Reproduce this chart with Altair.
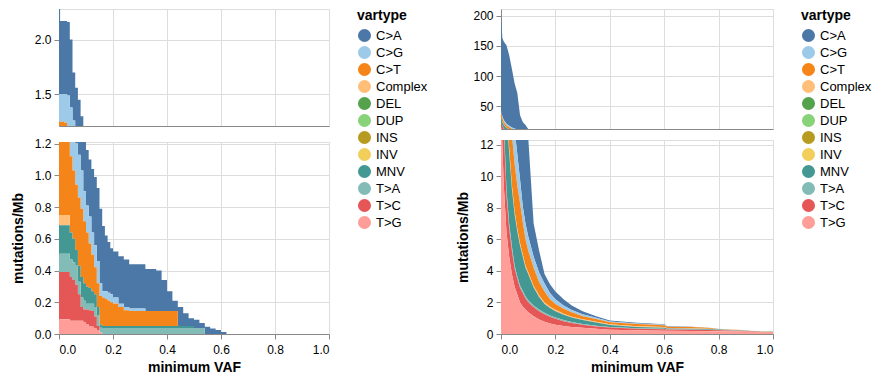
import altair as alt
import pandas as pd

VARTYPES = ["C>A", "C>G", "C>T", "Complex", "DEL", "DUP", "INS", "INV",
            "MNV", "T>A", "T>C", "T>G"]

# ---------------- left panel (step data) ----------------
LEFT_VAF = [0, 0.004, 0.01, 0.02, 0.03, 0.04, 0.05, 0.06, 0.07, 0.08, 0.09,
            0.10, 0.11, 0.12, 0.13, 0.14, 0.15, 0.16, 0.17, 0.18, 0.19, 0.20,
            0.22, 0.24, 0.26, 0.28, 0.30, 0.32, 0.34, 0.36, 0.38, 0.40, 0.42,
            0.44, 0.46, 0.48, 0.50, 0.52, 0.54, 0.56, 0.58, 0.60, 0.62]
L_CA = [0.78, 0.67, 0.67, 0.67, 0.67, 0.62, 0.44, 0.36, 0.32, 0.27, 0.31,
        0.35, 0.36, 0.40, 0.43, 0.46, 0.47, 0.41, 0.35, 0.32, 0.29, 0.29,
        0.30, 0.30, 0.28, 0.28, 0.28, 0.265, 0.265, 0.255, 0.195, 0.125, 0.065,
        0.12, 0.08, 0.05, 0.052, 0.032, 0.045, 0.035, 0.025, 0.012, 0]
L_CG = [0.25, 0.25, 0.25, 0.26, 0.28, 0.26, 0.23, 0.26, 0.27, 0.24, 0.19,
        0.17, 0.17, 0.14, 0.14, 0.14, 0.08, 0.04, 0.05, 0.05, 0.05, 0.04,
        0.02, 0.02, 0.015, 0.015, 0.015, 0, 0, 0, 0, 0, 0,
        0, 0, 0, 0, 0, 0, 0, 0, 0, 0]
L_CT = [0.50, 0.50, 0.50, 0.49, 0.46, 0.48, 0.43, 0.41, 0.43, 0.43, 0.39,
        0.34, 0.28, 0.23, 0.17, 0.15, 0.18, 0.18, 0.17, 0.16, 0.15, 0.14,
        0.12, 0.10, 0.095, 0.095, 0.095, 0.095, 0.095, 0.095, 0.095, 0.095, 0.095,
        0, 0, 0, 0, 0, 0, 0, 0, 0, 0]
L_COMPLEX = [0.065, 0.065, 0.065, 0.065, 0.065, 0, 0, 0, 0, 0, 0,
             0, 0, 0, 0, 0, 0, 0, 0, 0, 0, 0,
             0, 0, 0, 0, 0, 0, 0, 0, 0, 0, 0,
             0, 0, 0, 0, 0, 0, 0, 0, 0, 0]
L_MNV = [0.18, 0.18, 0.18, 0.18, 0.18, 0.17, 0.15, 0.10, 0.10, 0.13, 0.11,
         0.11, 0.10, 0.08, 0.08, 0.05, 0.02, 0.012, 0.012, 0.012, 0.012, 0.012,
         0.012, 0.012, 0.012, 0.012, 0.012, 0.012, 0.012, 0.012, 0.012, 0.012, 0.012,
         0.012, 0.012, 0.012, 0, 0, 0, 0, 0, 0, 0]
L_TA = [0.115, 0.115, 0.115, 0.115, 0.115, 0.11, 0.11, 0.12, 0.08, 0.06, 0.055,
        0.035, 0.04, 0.045, 0.06, 0.07, 0.03, 0.038, 0.038, 0.038, 0.038, 0.038,
        0.038, 0.038, 0.038, 0.038, 0.038, 0.038, 0.038, 0.038, 0.038, 0.038, 0.038,
        0.038, 0.038, 0.038, 0.038, 0.038, 0, 0, 0, 0, 0]
L_TC = [0.297, 0.297, 0.297, 0.297, 0.297, 0.277, 0.257, 0.227, 0.167, 0.087, 0.08,
        0.095, 0.10, 0.10, 0.075, 0.025, 0, 0, 0, 0, 0, 0,
        0, 0, 0, 0, 0, 0, 0, 0, 0, 0, 0,
        0, 0, 0, 0, 0, 0, 0, 0, 0, 0]
L_TG = [0.093, 0.093, 0.093, 0.093, 0.093, 0.083, 0.083, 0.083, 0.083, 0.083, 0.075,
        0.06, 0.05, 0.045, 0.035, 0.025, 0.01, 0, 0, 0, 0, 0,
        0, 0, 0, 0, 0, 0, 0, 0, 0, 0, 0,
        0, 0, 0, 0, 0, 0, 0, 0, 0, 0]

# ---------------- right panel ----------------
RIGHT_VAF = [0, 0.005, 0.01, 0.02, 0.03, 0.04, 0.05, 0.06, 0.07, 0.08, 0.09,
             0.10, 0.12, 0.14, 0.16, 0.18, 0.20, 0.23, 0.26, 0.30, 0.35,
             0.40, 0.50, 0.60, 0.61, 0.70, 0.76, 0.80, 0.85, 0.88, 0.92, 0.96, 1.0]
R_CA = [158, 130, 130, 130, 117.5, 97, 75, 60.6, 25.2, 15.9, 12,
        6.3, 2.1, 1.4, 0.6, 0.55, 0.5, 0.4, 0.28, 0.2, 0.1,
        0.05, 0.05, 0.04, 0.02, 0.01, 0.01, 0, 0, 0, 0, 0, 0]
R_CG = [2, 3, 3, 3, 2.4, 2.3, 2.2, 2.0, 1.5, 1.0, 1.0,
        0.9, 0.7, 0.6, 0.5, 0.4, 0.3, 0.2, 0.14, 0.12, 0.08,
        0.05, 0.04, 0.03, 0.02, 0.01, 0.01, 0.01, 0.01, 0, 0, 0, 0]
R_CT = [9, 5.7, 4.4, 3.6, 3.3, 3.2, 3.0, 2.75, 2.55, 2.06, 1.67,
        1.38, 1.15, 0.85, 0.71, 0.47, 0.37, 0.31, 0.28, 0.20, 0.17,
        0.13, 0.14, 0.11, 0.08, 0.07, 0.06, 0.02, 0.01, 0, 0, 0, 0]
R_COMPLEX = [1.0, 0.8, 0.6, 0.4, 0.3, 0.25, 0.2, 0.15, 0.15, 0.14, 0.13,
             0.12, 0.1, 0.1, 0.09, 0.08, 0.08, 0.07, 0.06, 0.05, 0.05,
             0.05, 0.04, 0.04, 0.03, 0.03, 0.03, 0.02, 0.02, 0.02, 0.02, 0.04, 0.03]
R_MNV = [7, 5.7, 5.4, 4.8, 4.5, 3.65, 3.25, 2.85, 2.53, 2.16, 1.80,
         1.66, 1.15, 0.80, 0.55, 0.48, 0.41, 0.34, 0.28, 0.25, 0.20,
         0.12, 0.09, 0.07, 0.05, 0.05, 0.04, 0.03, 0.02, 0.02, 0.01, 0.01, 0.01]
R_TA = [1.0, 0.8, 0.6, 0.4, 0.3, 0.25, 0.2, 0.15, 0.15, 0.14, 0.13,
        0.12, 0.1, 0.1, 0.09, 0.08, 0.08, 0.07, 0.06, 0.05, 0.05,
        0.04, 0.03, 0.03, 0.02, 0.02, 0.02, 0.02, 0.02, 0.02, 0, 0, 0]
R_TC = [7, 5, 3.5, 2.3, 1.8, 1.5, 1.15, 1.0, 0.92, 0.85, 0.72,
        0.64, 0.58, 0.53, 0.48, 0.43, 0.38, 0.31, 0.25, 0.18, 0.15,
        0.14, 0.10, 0.09, 0.08, 0.08, 0.07, 0.06, 0.05, 0.05, 0.04, 0, 0]
R_TG = [15, 12, 9.5, 6.5, 4.9, 3.8, 3.0, 2.5, 2.0, 1.75, 1.55,
        1.38, 1.12, 0.92, 0.78, 0.66, 0.58, 0.50, 0.45, 0.40, 0.33,
        0.27, 0.23, 0.21, 0.20, 0.19, 0.18, 0.17, 0.16, 0.16, 0.14, 0.13, 0.13]

LEFT_SERIES = {"C>A": L_CA, "C>G": L_CG, "C>T": L_CT, "Complex": L_COMPLEX,
               "MNV": L_MNV, "T>A": L_TA, "T>C": L_TC, "T>G": L_TG}
RIGHT_SERIES = {"C>A": R_CA, "C>G": R_CG, "C>T": R_CT, "Complex": R_COMPLEX,
                "MNV": R_MNV, "T>A": R_TA, "T>C": R_TC, "T>G": R_TG}

# axis breaks (bottom panel upper limit / top panel limits)
LEFT_BREAK, LEFT_MAX = 1.21, 2.28
RIGHT_BREAK, RIGHT_MAX = 12.3, 211


def frame(xs, series):
    rows = []
    for vt, vals in series.items():
        for x, v in zip(xs, vals):
            rows.append({"vaf": x, "vartype": vt, "value": v})
    return pd.DataFrame(rows)


def panel(df, brk, top_max, interp, width, top_h, bot_h, spacing):
    color = alt.Color(
        "vartype:N",
        scale=alt.Scale(domain=VARTYPES, scheme="tableau20"),
        legend=alt.Legend(title="vartype", symbolType="circle", offset=27),
    )
    base = alt.Chart(df).mark_area(clip=True, interpolate=interp)
    top = base.encode(
        x=alt.X("vaf:Q", scale=alt.Scale(domain=[0, 1]),
                axis=alt.Axis(labels=False, ticks=False, title=None)),
        y=alt.Y("value:Q", stack="zero",
                scale=alt.Scale(domain=[brk, top_max], nice=False),
                axis=alt.Axis(title=None)),
        color=color,
    ).properties(width=width, height=top_h)
    bottom = base.encode(
        x=alt.X("vaf:Q", scale=alt.Scale(domain=[0, 1]),
                axis=alt.Axis(title="minimum VAF", labelPadding=5,
                              titlePadding=5)),
        y=alt.Y("value:Q", stack="zero",
                scale=alt.Scale(domain=[0, brk], nice=False),
                axis=alt.Axis(title="mutations/Mb")),
        color=color,
    ).properties(width=width, height=bot_h)
    return alt.vconcat(top, bottom, spacing=spacing)


left = panel(frame(LEFT_VAF, LEFT_SERIES), LEFT_BREAK, LEFT_MAX,
             "step-after", 270, 117, 192, 10)
right = panel(frame(RIGHT_VAF, RIGHT_SERIES), RIGHT_BREAK, RIGHT_MAX,
              "linear", 272, 120, 194, 8)

chart = (
    alt.hconcat(left, right, spacing=28)
    .resolve_scale(color="independent")
    .properties(padding={"left": 10, "top": 8, "right": 5, "bottom": 5})
    .configure(font="Liberation Sans")
    .configure_axis(labelFontSize=12, titleFontSize=14, labelColor="#000",
                    titleColor="#000")
    .configure_axisY(titlePadding=9, labelPadding=3)
    .configure_legend(labelFontSize=13, titleFontSize=14, symbolSize=170,
                      labelColor="#000", titleColor="#000")
    .configure_view(stroke="#ddd")
)

chart.save("out.html", embed_options={"renderer": "svg", "actions": False})
